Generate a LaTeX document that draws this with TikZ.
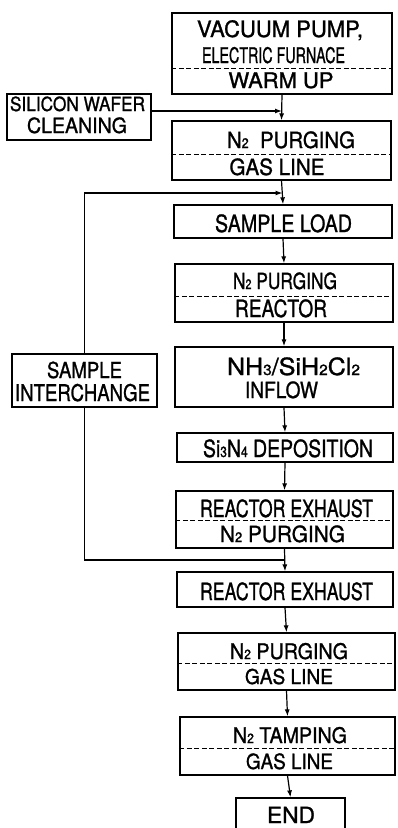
\documentclass[tikz,border=0pt]{standalone}
\usepackage{fontspec}
\setmainfont{TeX Gyre Heros}[FakeBold=1.2]
\usepackage{graphicx}
\usetikzlibrary{arrows.meta}
\newsavebox\lblbox
\newcommand\lbl[3]{\sbox\lblbox{\fontsize{#1pt}{#1pt}\selectfont #3}\pgfmathsetmacro\lblsx{#2/\the\wd\lblbox}\scalebox{\lblsx}[1]{\usebox\lblbox}}
\newcommand\sbs[1]{\scalebox{0.62}{#1}}
\begin{document}
\begin{tikzpicture}[x=1pt,y=1pt,
  box/.style={draw, line width=1.3pt, inner sep=0pt, rectangle},
  txt/.style={anchor=base, inner sep=0pt},
  arr/.style={line width=1.2pt, -{Latex[length=7pt,width=5pt]}},
  ln/.style={line width=1.2pt},
  dsh/.style={line width=1pt, dash pattern=on 5pt off 2.5pt}]
\useasboundingbox (0,0) rectangle (397,-828);
\clip (0,0) rectangle (397,-828);
% boxes
\node[box, minimum width=220pt, minimum height=81pt] (b1) at (282,-53.5) {};
\node[box, minimum width=144pt, minimum height=46pt] (si) at (79,-117) {};
\node[box, minimum width=219pt, minimum height=59pt] (b2) at (281.5,-150.5) {};
\node[box, minimum width=218pt, minimum height=33pt] (b3) at (283,-221.5) {};
\node[box, minimum width=218pt, minimum height=58pt] (b4) at (284,-293) {};
\node[box, minimum width=145pt, minimum height=53pt] (si2) at (84.5,-380.5) {};
\node[box, minimum width=218pt, minimum height=60pt] (b5) at (284,-377) {};
\node[box, minimum width=216pt, minimum height=29pt] (b6) at (285,-447.5) {};
\node[box, minimum width=217pt, minimum height=57pt] (b7) at (284.5,-519.5) {};
\node[box, minimum width=216pt, minimum height=35pt] (b8) at (285,-589.5) {};
\node[box, minimum width=217pt, minimum height=57pt] (b9) at (286.5,-661.5) {};
\node[box, minimum width=215pt, minimum height=58pt] (b10) at (287.5,-746) {};
\node[box, minimum width=109pt, minimum height=34pt] (b11) at (290.5,-815) {};
% dashed dividers
\draw[dsh] (b1.west |- 0,-68) -- (b1.east |- 0,-68);
\draw[dsh] (b2.west |- 0,-154) -- (b2.east |- 0,-154);
\draw[dsh] (b4.west |- 0,-296) -- (b4.east |- 0,-296);
\draw[dsh] (b7.west |- 0,-520) -- (b7.east |- 0,-520);
\draw[dsh] (b9.west |- 0,-663) -- (b9.east |- 0,-663);
\draw[dsh] (b10.west |- 0,-748) -- (b10.east |- 0,-748);
% texts
\node[txt] (t1a) at (280,-37) {\lbl{22.5}{166}{VACUUM PUMP,}};
\node[txt] (t1b) at (273.5,-63) {\lbl{21.5}{143}{ELECTRIC FURNACE}};
\node[txt] (t1c) at (281,-88) {\lbl{21.5}{105}{WARM UP}};
\node[txt] (tsa) at (77.5,-111) {\lbl{19.5}{135}{SILICON WAFER}};
\node[txt] (tsb) at (77,-133) {\lbl{21}{100}{CLEANING}};
\node[txt] (t2a) at (291,-148) {\lbl{22.3}{128}{N\sbs{2}\ \ PURGING}};
\node[txt] (t2b) at (277,-175) {\lbl{22.3}{95}{GAS LINE}};
\node[txt] (t3) at (283.5,-232) {\lbl{23.7}{137}{SAMPLE LOAD}};
\node[txt] (t4a) at (285,-289) {\lbl{22.3}{104}{N\sbs{2} PURGING}};
\node[txt] (t4b) at (281,-317) {\lbl{23.7}{92}{REACTOR}};
\node[txt] (tia) at (84.5,-378) {\lbl{22}{75}{SAMPLE}};
\node[txt] (tib) at (82.5,-401) {\lbl{23}{135}{INTERCHANGE}};
\node[txt] (t5a) at (293.5,-375) {\lbl{23.7}{133}{NH\sbs{3}/SiH\sbs{2}Cl\sbs{2}}};
\node[txt] (t5b) at (281.5,-398) {\lbl{22.3}{73}{INFLOW}};
\node[txt] (t6) at (288,-457) {\lbl{23.7}{170}{Si\sbs{3}N\sbs{4} DEPOSITION}};
\node[txt] (t7a) at (286.5,-517) {\lbl{23.7}{173}{REACTOR EXHAUST}};
\node[txt] (t7b) at (282.5,-542) {\lbl{22.3}{125}{N\sbs{2} PURGING}};
\node[txt] (t8) at (286.5,-600) {\lbl{23.7}{173}{REACTOR EXHAUST}};
\node[txt] (t9a) at (289,-659) {\lbl{21.5}{118}{N\sbs{2} PURGING}};
\node[txt] (t9b) at (289,-684) {\lbl{20.5}{88}{GAS LINE}};
\node[txt] (t10a) at (290,-743) {\lbl{21.5}{114}{N\sbs{2} TAMPING}};
\node[txt] (t10b) at (289.5,-769) {\lbl{21}{87}{GAS LINE}};
\node[txt] (t11) at (291,-823) {\lbl{22.3}{48}{END}};
% junctions
\coordinate (j1) at (282,-111);
\coordinate (j2) at (282.5,-193);
\coordinate (j3) at (285,-560);
% connectors
\draw[arr] (b1.south) -- (b2.north);
\draw[arr] (si.east |- j1) -- (j1);
\draw[arr] (b2.south) -- (b3.north);
\draw[arr] (si2.north) |- (j2);
\draw[ln] (j3) -| (si2.south);
\draw[arr] (b3.south) -- (b4.north);
\draw[arr] (b4.south) -- (b5.north);
\draw[arr] (b5.south) -- (b6.north);
\draw[arr] (b6.south) -- (b7.north);
\draw[arr] (b7.south) -- (b8.north);
\draw[arr] (b8.south) -- (b9.north);
\draw[arr] (b9.south) -- (b10.north);
\draw[arr] (b10.south) -- (b11.north);
\end{tikzpicture}
\end{document}
